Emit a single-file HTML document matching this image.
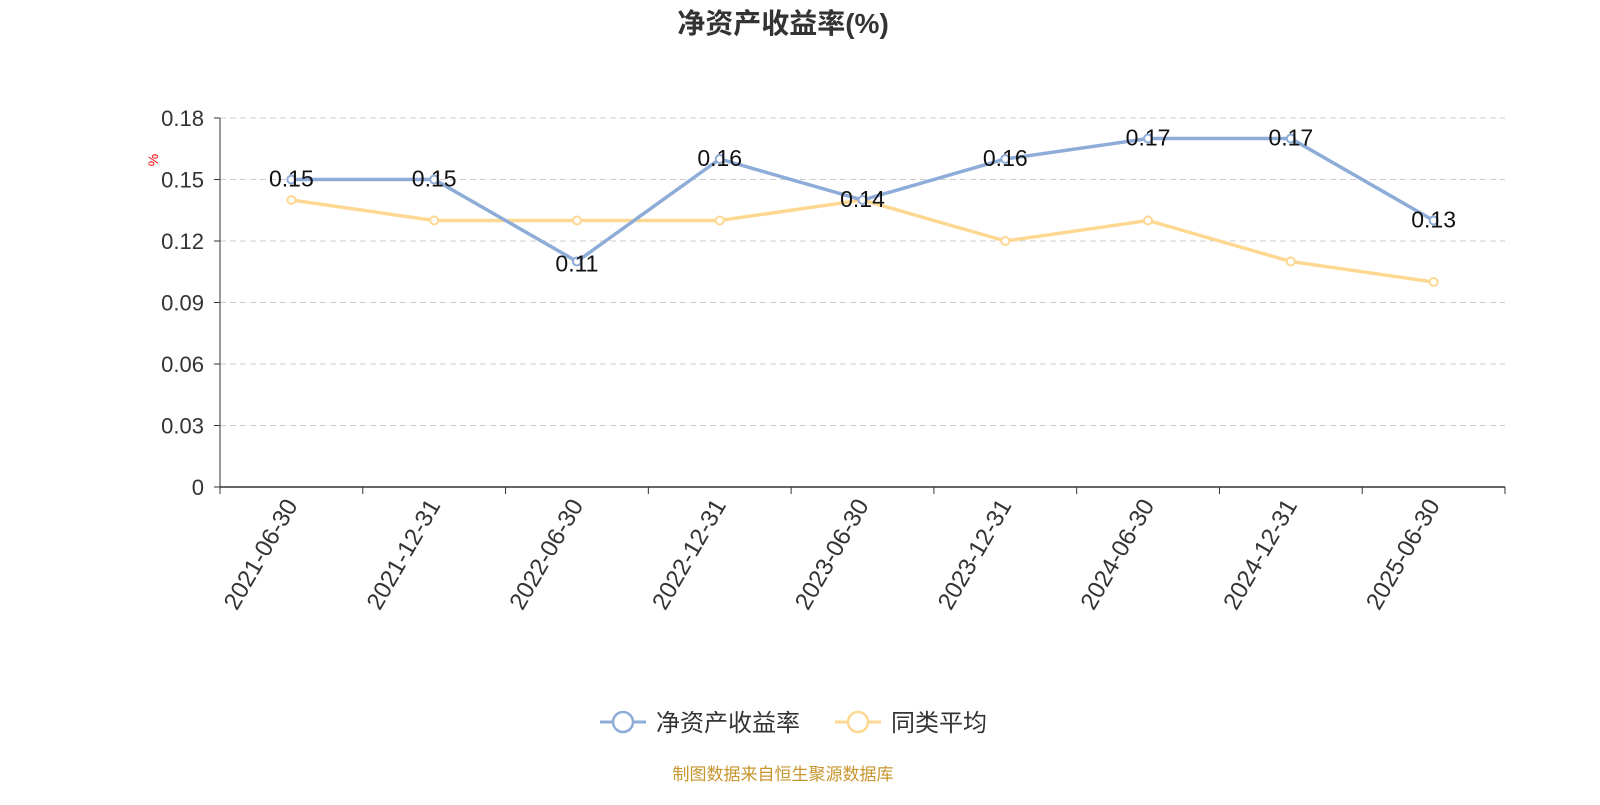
<!DOCTYPE html>
<html><head><meta charset="utf-8"><style>
body{margin:0;background:#fff;width:1600px;height:800px;overflow:hidden}
svg text{font-family:"Liberation Sans","Noto Sans CJK SC",sans-serif}
</style></head><body>
<svg id="c" width="1600" height="800">
<text x="783" y="33" text-anchor="middle" font-size="28" font-weight="bold" fill="#333">净资产收益率(%)</text>
<text x="158" y="160" font-size="14" fill="red" transform="rotate(-90 158 160)" text-anchor="middle">%</text>
<g id="grid"></g><g id="axes"></g><g id="series"></g>
<g>
<g><line x1="600" y1="722" x2="646" y2="722" stroke="#8eacd8" stroke-width="3"/><circle cx="623" cy="722" r="10" fill="#fff" stroke="#8eacd8" stroke-width="2.5"/><text x="656" y="731" font-size="24" fill="#333">净资产收益率</text></g>
<g><line x1="835" y1="722" x2="881" y2="722" stroke="#fdd893" stroke-width="3"/><circle cx="858" cy="722" r="10" fill="#fff" stroke="#fdd893" stroke-width="2.5"/><text x="891" y="731" font-size="24" fill="#333">同类平均</text></g>
</g>
<text x="783" y="780" text-anchor="middle" font-size="17" fill="#c8962e">制图数据来自恒生聚源数据库</text>
</svg>
<script>
const categories=["2021-06-30","2021-12-31","2022-06-30","2022-12-31","2023-06-30","2023-12-31","2024-06-30","2024-12-31","2025-06-30"];
const roeValues=[0.15,0.15,0.11,0.16,0.14,0.16,0.17,0.17,0.13];
const avgValues=[0.14,0.13,0.13,0.13,0.14,0.12,0.13,0.11,0.10];
const yTicks=[0,0.03,0.06,0.09,0.12,0.15,0.18];
const yTickLabels=["0","0.03","0.06","0.09","0.12","0.15","0.18"];
const NS="http://www.w3.org/2000/svg";
const L=220,R=1505,T=118,B=487,yMax=0.18;
const bw=(R-L)/categories.length;
const x=i=>L+bw*(i+0.5);
const y=v=>B-(v/yMax)*(B-T);
function mk(tag,attrs,parent,txt){const e=document.createElementNS(NS,tag);for(const k in attrs)e.setAttribute(k,attrs[k]);if(txt!==undefined)e.textContent=txt;parent.appendChild(e);return e;}
const grid=document.getElementById('grid'),axes=document.getElementById('axes'),ser=document.getElementById('series');
yTicks.forEach((t,i)=>{
  if(t>0){const g=mk('line',{x1:L,x2:R,y1:y(t),y2:y(t),stroke:'#ccc','stroke-dasharray':'6,4'},grid);
  
  }
  mk('line',{x1:L-6,x2:L,y1:y(t),y2:y(t),stroke:'#333'},axes);
  const tl=mk('text',{x:L-16,y:y(t)+8,'text-anchor':'end','font-size':'22',fill:'#333'},axes,yTickLabels[i]);
  
  
});
mk('line',{x1:L,x2:L,y1:T,y2:B,stroke:'#333'},axes);
mk('line',{x1:L,x2:R,y1:B,y2:B,stroke:'#333','stroke-width':1.5},axes);
for(let i=0;i<=categories.length;i++)mk('line',{x1:L+bw*i,x2:L+bw*i,y1:B,y2:B+7,stroke:'#333'},axes);
categories.forEach((c,i)=>{
  const px=x(i),py=B+14;
  const t=mk('text',{x:px,y:py+8,'text-anchor':'end','font-size':'24',fill:'#333',transform:`rotate(-60 ${px} ${py})`},axes,c);
  
  
});
function drawSeries(vals,color,name,labels){
  const p=mk('polyline',{points:vals.map((v,i)=>x(i)+','+y(v)).join(' '),fill:'none',stroke:color,'stroke-width':3.5},ser);
  
  
  vals.forEach((v,i)=>{
    const c=mk('circle',{cx:x(i),cy:y(v),r:4,fill:'#fff',stroke:color,'stroke-width':2},ser);
    
    
    if(labels){const t=mk('text',{x:x(i),y:y(v)+(i==2?10:7),'text-anchor':'middle','font-size':'23',fill:'#111'},ser,String(v));
    
    }
  });
}
drawSeries(avgValues,'#fdd893','peer-average',false);
drawSeries(roeValues,'#8eacd8','roe',true);
</script>
</body></html>
